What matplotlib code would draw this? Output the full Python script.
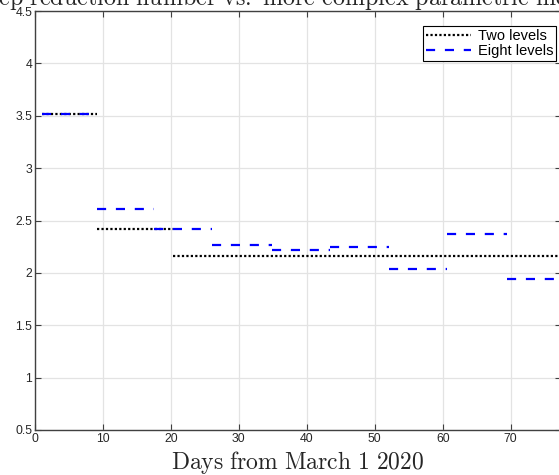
import matplotlib
matplotlib.use("Agg")
import matplotlib.pyplot as plt

# Data
two_breaks = [1, 9.07, 20.35, 77.5]
two_vals = [3.52, 2.415, 2.16]
eight_breaks = [1, 9.07, 17.5, 26.1, 34.9, 43.4, 52.1, 60.6, 69.4, 77.5]
eight_vals = [3.52, 2.61, 2.42, 2.265, 2.215, 2.245, 2.04, 2.37, 1.94]
xticks = [0, 10, 20, 30, 40, 50, 60, 70]
yticks = [0.5, 1, 1.5, 2, 2.5, 3, 3.5, 4, 4.5]

plt.rcParams['mathtext.fontset'] = 'cm'
plt.rcParams['font.family'] = ['Liberation Sans', 'DejaVu Sans']

W, H = 559, 475
fig = plt.figure(figsize=(W / 100, H / 100), dpi=100)
left, right, top, bottom = 35, 561, 11, 430
ax = fig.add_axes([left / W, 1 - bottom / H, (right - left) / W, (bottom - top) / H])

lw = 1.6
for i, v in enumerate(two_vals):
    ax.plot([two_breaks[i], two_breaks[i + 1]], [v, v], color='black', lw=lw,
            dashes=(1, 1), label='Two levels' if i == 0 else None, zorder=3)
for i, v in enumerate(eight_vals):
    ax.plot([eight_breaks[i], eight_breaks[i + 1]], [v, v], color='blue', lw=lw,
            dashes=(4.1, 4.4), label='Eight levels' if i == 0 else None, zorder=4)

ax.set_xlim(0, 77.4)
ax.set_ylim(0.5, 4.5)
ax.set_xticks(xticks)
ax.set_yticks(yticks)
ax.set_xticklabels([str(t) for t in xticks])
ax.set_yticklabels([f"{t:g}" for t in yticks])
ax.grid(True, color='#e3e3e3', lw=0.9)
ax.set_axisbelow(True)
ax.tick_params(direction='in', length=4, width=0.8, color='#404040', labelsize=8.8,
               labelcolor='#262626', top=True, right=True, pad=2)
for s in ax.spines.values():
    s.set_color('#404040')
    s.set_linewidth(1.0)

ax.set_xlabel(r'$\mathrm{Days\ from\ March\ 1\ 2020}$', fontsize=17, color='#262626', labelpad=3)

fig.text(288 / W, 1 - 5 / H,
         r'$\mathrm{Step\ reduction\ number\ vs.\ more\ complex\ parametric\ model}$',
         ha='center', va='baseline', fontsize=17.3, color='#262626')

leg = ax.legend(loc='upper right', fontsize=10.5, frameon=True, fancybox=False,
                edgecolor='black', framealpha=1, handlelength=3.1, handletextpad=0.45,
                borderpad=0.2, labelspacing=0.1, borderaxespad=0.0,
                bbox_to_anchor=((556 - left) / (right - left), (bottom - 26) / (bottom - top)))
leg.get_frame().set_linewidth(0.8)

fig.savefig('out.png', dpi=100)
